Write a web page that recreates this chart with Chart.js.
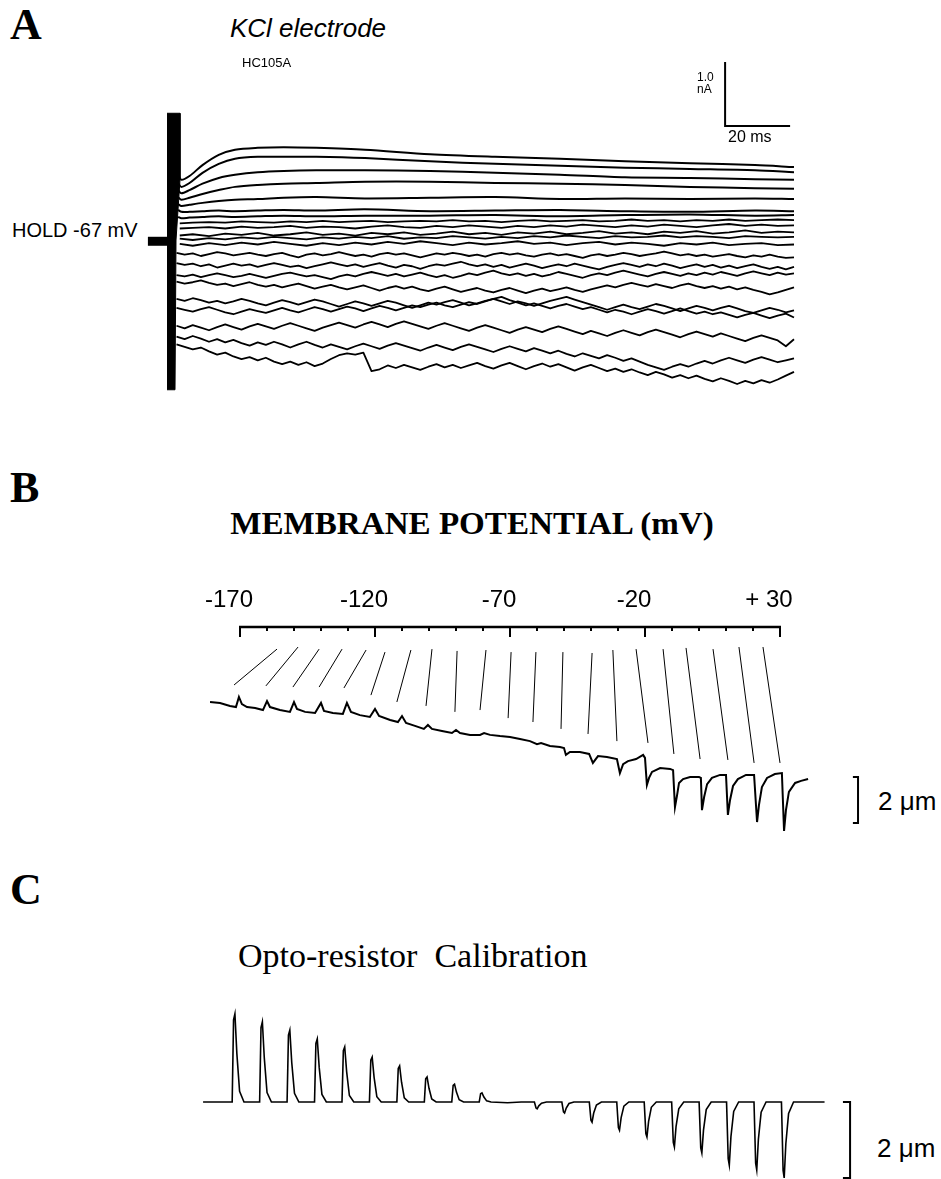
<!DOCTYPE html>
<html>
<head>
<meta charset="utf-8">
<script src="https://cdn.jsdelivr.net/npm/chart.js@4.4.1/dist/chart.umd.min.js"></script>
<style>
  html, body { margin: 0; padding: 0; background: #fff; }
  #page { position: relative; width: 941px; height: 1179px; overflow: hidden; background: #fff; }
  #page canvas { position: absolute; }
  .t { position: absolute; white-space: pre; line-height: 1; color: #000; }
  .sans { font-family: "Liberation Sans", Arial, Helvetica, sans-serif; }
  .serif { font-family: "Liberation Serif", "Times New Roman", Times, serif; }
</style>
</head>
<body>
<div id="page">
  <canvas id="chartA" width="670" height="350" style="left:140px;top:50px"></canvas>
  <canvas id="chartB" width="675" height="275" style="left:195px;top:575px"></canvas>
  <canvas id="chartC" width="675" height="184" style="left:195px;top:995px"></canvas>
</div>
<script>
// ---------- Panel A: whole-cell current (nA) against time (ms) ----------
const timeSmooth = [2.5, 3.5, 6, 10, 15, 20, 27, 35, 45, 60, 80, 100, 120, 140, 160, 180, 192];
const timeNoisy = [3, 7, 12, 17, 22, 27, 32, 37, 42, 47, 52, 57, 62, 67, 72, 77, 82, 87, 92, 97,
  102, 107, 112, 117, 122, 127, 132, 137, 142, 147, 152, 157, 162, 167, 172, 177, 182, 187, 192];
const timeFine = [2, 4.5, 7, 9.5, 12, 14.5, 17, 19.5, 22, 24.5, 27,
  29.5, 32, 34.5, 37, 39.5, 42, 44.5, 47, 49.5, 52, 54.5,
  57, 59.5, 62, 64.5, 67, 69.5, 72, 74.5, 77, 79.5, 82,
  84.5, 87, 89.5, 92, 94.5, 97, 99.5, 102, 104.5, 107, 109.5,
  112, 114.5, 117, 119.5, 122, 124.5, 127, 129.5, 132, 134.5, 137,
  139.5, 142, 144.5, 147, 149.5, 152, 154.5, 157, 159.5, 162, 164.5,
  167, 169.5, 172, 174.5, 177, 179.5, 182, 184.5, 187, 189.5, 192];

const sweep01 = [1.02, 0.94, 1.00, 1.17, 1.33, 1.41, 1.44, 1.45, 1.44, 1.41, 1.34, 1.30, 1.27, 1.23, 1.20, 1.17, 1.14];
const sweep02 = [0.89, 0.83, 0.89, 1.05, 1.19, 1.27, 1.30, 1.30, 1.30, 1.28, 1.23, 1.19, 1.16, 1.13, 1.11, 1.09, 1.06];
const sweep03 = [0.78, 0.73, 0.78, 0.88, 0.97, 1.02, 1.06, 1.08, 1.09, 1.09, 1.08, 1.05, 1.02, 0.98, 0.97, 0.95, 0.94];
const sweep04 = [0.67, 0.63, 0.66, 0.72, 0.78, 0.83, 0.86, 0.88, 0.89, 0.91, 0.91, 0.89, 0.88, 0.86, 0.83, 0.81, 0.80];
const sweep05 = [0.56, 0.53, 0.55, 0.58, 0.61, 0.63, 0.64, 0.66, 0.67, 0.65, 0.66, 0.67, 0.64, 0.65, 0.64, 0.65, 0.64];
const sweep06 = [0.47, 0.44, 0.44, 0.45, 0.46, 0.45, 0.46, 0.47, 0.46, 0.48, 0.45, 0.46, 0.47, 0.45, 0.44, 0.46, 0.45];
const sweep07 = [0.36, 0.34, 0.35, 0.36, 0.37, 0.36, 0.37, 0.38, 0.37, 0.38, 0.38, 0.39, 0.37, 0.39, 0.40, 0.38, 0.39];

const sweep08 = [0.26, 0.27, 0.28, 0.27, 0.29, 0.28, 0.27, 0.29, 0.28, 0.30, 0.28, 0.29, 0.30, 0.28, 0.29, 0.30, 0.29, 0.31, 0.29, 0.30,
  0.28, 0.30, 0.31, 0.29, 0.30, 0.31, 0.29, 0.30, 0.32, 0.30, 0.31, 0.29, 0.31, 0.30, 0.32, 0.30, 0.31, 0.32, 0.31];
const sweep09 = [0.18, 0.19, 0.20, 0.18, 0.21, 0.19, 0.20, 0.22, 0.19, 0.21, 0.20, 0.18, 0.21, 0.23, 0.20, 0.19, 0.22, 0.20, 0.23, 0.21,
  0.19, 0.22, 0.20, 0.23, 0.21, 0.24, 0.22, 0.20, 0.23, 0.21, 0.24, 0.22, 0.20, 0.23, 0.25, 0.22, 0.24, 0.22, 0.23];
const sweep10 = [0.07, 0.09, 0.06, 0.10, 0.08, 0.11, 0.07, 0.09, 0.12, 0.08, 0.10, 0.07, 0.11, 0.09, 0.12, 0.08, 0.10, 0.13, 0.09, 0.11,
  0.08, 0.12, 0.10, 0.13, 0.09, 0.11, 0.14, 0.10, 0.12, 0.09, 0.13, 0.11, 0.14, 0.10, 0.12, 0.15, 0.11, 0.13, 0.12];
const sweep11 = [0.02, 0.00, 0.03, 0.01, 0.04, 0.02, 0.05, 0.03, 0.01, 0.04, 0.02, 0.05, 0.03, 0.06, 0.02, 0.04, 0.03, 0.06, 0.04, 0.02,
  0.05, 0.03, 0.06, 0.04, 0.07, 0.05, 0.03, 0.06, 0.04, 0.05, 0.07, 0.04, 0.06, 0.05, 0.03, 0.06, 0.05, 0.04, 0.05];
const sweep12 = [-0.06, -0.09, -0.05, -0.08, -0.04, -0.07, -0.03, -0.06, -0.09, -0.05, -0.08, -0.04, -0.07, -0.03, -0.06, -0.02, -0.05, -0.08, -0.04, -0.07,
  -0.05, -0.02, -0.06, -0.04, -0.08, -0.05, -0.03, -0.07, -0.04, -0.06, -0.09, -0.05, -0.07, -0.04, -0.08, -0.06, -0.05, -0.08, -0.07];

// the noisier sweeps, read on the finer time grid
const sweep13 = [-0.20, -0.23, -0.21, -0.25, -0.22, -0.19, -0.21, -0.24, -0.22, -0.20, -0.23,
  -0.25, -0.22, -0.20, -0.24, -0.27, -0.23, -0.21, -0.24, -0.22, -0.19, -0.22,
  -0.25, -0.23, -0.26, -0.22, -0.20, -0.23, -0.21, -0.24, -0.27, -0.24, -0.21,
  -0.23, -0.20, -0.22, -0.25, -0.23, -0.26, -0.22, -0.20, -0.23, -0.21, -0.24,
  -0.26, -0.23, -0.21, -0.24, -0.22, -0.25, -0.28, -0.24, -0.22, -0.25, -0.23,
  -0.20, -0.22, -0.25, -0.23, -0.21, -0.18, -0.21, -0.24, -0.22, -0.25, -0.23,
  -0.26, -0.24, -0.22, -0.25, -0.27, -0.24, -0.26, -0.23, -0.26, -0.28, -0.27];
const sweep14 = [-0.36, -0.39, -0.37, -0.41, -0.38, -0.43, -0.40, -0.37, -0.40, -0.38, -0.42,
  -0.39, -0.36, -0.39, -0.42, -0.40, -0.44, -0.41, -0.38, -0.35, -0.38, -0.41,
  -0.38, -0.42, -0.39, -0.36, -0.40, -0.43, -0.39, -0.41, -0.45, -0.41, -0.38,
  -0.40, -0.37, -0.34, -0.38, -0.41, -0.38, -0.42, -0.39, -0.43, -0.40, -0.37,
  -0.40, -0.44, -0.41, -0.38, -0.41, -0.37, -0.40, -0.43, -0.46, -0.42, -0.39,
  -0.36, -0.39, -0.42, -0.38, -0.41, -0.37, -0.40, -0.44, -0.41, -0.38, -0.42,
  -0.39, -0.43, -0.40, -0.44, -0.41, -0.38, -0.42, -0.45, -0.42, -0.46, -0.42];
const sweep15 = [-0.55, -0.57, -0.54, -0.58, -0.55, -0.52, -0.55, -0.58, -0.56, -0.53, -0.56,
  -0.59, -0.56, -0.53, -0.51, -0.54, -0.57, -0.55, -0.58, -0.61, -0.57, -0.54,
  -0.57, -0.53, -0.50, -0.53, -0.56, -0.53, -0.57, -0.54, -0.51, -0.55, -0.58,
  -0.55, -0.59, -0.56, -0.52, -0.55, -0.51, -0.48, -0.52, -0.55, -0.52, -0.56,
  -0.53, -0.57, -0.54, -0.50, -0.53, -0.56, -0.59, -0.55, -0.52, -0.55, -0.51,
  -0.48, -0.51, -0.54, -0.57, -0.53, -0.50, -0.53, -0.56, -0.52, -0.55, -0.51,
  -0.54, -0.50, -0.53, -0.56, -0.52, -0.49, -0.52, -0.55, -0.51, -0.54, -0.52];
const sweep16 = [-0.65, -0.68, -0.66, -0.63, -0.67, -0.70, -0.68, -0.72, -0.69, -0.66, -0.70,
  -0.73, -0.70, -0.74, -0.71, -0.68, -0.72, -0.76, -0.73, -0.70, -0.74, -0.77,
  -0.74, -0.71, -0.75, -0.79, -0.75, -0.72, -0.76, -0.73, -0.77, -0.80, -0.76,
  -0.73, -0.77, -0.81, -0.78, -0.75, -0.79, -0.82, -0.78, -0.75, -0.79, -0.83,
  -0.79, -0.76, -0.80, -0.77, -0.74, -0.78, -0.81, -0.77, -0.74, -0.71, -0.74,
  -0.70, -0.67, -0.70, -0.73, -0.69, -0.72, -0.75, -0.71, -0.68, -0.72, -0.75,
  -0.72, -0.76, -0.73, -0.77, -0.74, -0.78, -0.81, -0.85, -0.82, -0.78, -0.74];
const sweep17 = [-0.92, -0.95, -0.91, -0.94, -0.98, -0.95, -0.99, -0.96, -0.92, -0.95, -0.99,
  -1.02, -0.98, -0.94, -0.97, -1.01, -0.97, -0.93, -0.96, -1.00, -1.04, -1.00,
  -0.96, -0.99, -1.03, -0.99, -0.95, -0.98, -1.02, -1.06, -1.02, -0.98, -1.01,
  -0.97, -0.94, -0.98, -1.02, -0.99, -0.95, -0.92, -0.96, -1.00, -0.96, -0.99,
  -1.03, -0.99, -0.95, -0.92, -0.89, -0.93, -0.97, -1.01, -1.05, -1.09, -1.05,
  -1.01, -1.05, -1.08, -1.04, -1.00, -1.03, -1.07, -1.11, -1.07, -1.03, -1.06,
  -1.10, -1.06, -1.03, -1.07, -1.11, -1.14, -1.10, -1.06, -1.09, -1.13, -1.10];
const sweep18 = [-1.06, -1.09, -1.12, -1.08, -1.05, -1.09, -1.13, -1.16, -1.12, -1.08, -1.11,
  -1.14, -1.10, -1.06, -1.10, -1.13, -1.09, -1.05, -1.08, -1.12, -1.08, -1.04,
  -1.07, -1.11, -1.07, -1.03, -1.06, -1.10, -1.06, -1.02, -1.05, -1.01, -0.98,
  -1.02, -1.05, -1.01, -0.97, -1.00, -0.96, -0.92, -0.89, -0.94, -0.98, -1.02,
  -0.99, -1.03, -1.07, -1.03, -1.00, -1.04, -1.08, -1.05, -1.09, -1.13, -1.09,
  -1.12, -1.16, -1.12, -1.08, -1.11, -1.15, -1.11, -1.07, -1.11, -1.15, -1.12,
  -1.16, -1.13, -1.17, -1.21, -1.17, -1.14, -1.18, -1.22, -1.18, -1.15, -1.21];
const sweep19 = [-1.34, -1.38, -1.33, -1.37, -1.41, -1.36, -1.32, -1.36, -1.40, -1.35, -1.31,
  -1.35, -1.39, -1.34, -1.30, -1.34, -1.38, -1.42, -1.37, -1.33, -1.29, -1.33,
  -1.37, -1.32, -1.28, -1.32, -1.36, -1.31, -1.27, -1.31, -1.35, -1.39, -1.34,
  -1.30, -1.34, -1.38, -1.42, -1.37, -1.33, -1.37, -1.41, -1.45, -1.40, -1.36,
  -1.40, -1.44, -1.39, -1.35, -1.39, -1.43, -1.47, -1.42, -1.46, -1.50, -1.45,
  -1.41, -1.45, -1.49, -1.44, -1.40, -1.44, -1.48, -1.52, -1.47, -1.43, -1.47,
  -1.51, -1.46, -1.50, -1.54, -1.58, -1.53, -1.49, -1.53, -1.57, -1.66, -1.55];
const sweep20 = [-1.51, -1.55, -1.50, -1.54, -1.59, -1.55, -1.60, -1.56, -1.61, -1.65, -1.60,
  -1.64, -1.59, -1.63, -1.68, -1.63, -1.59, -1.64, -1.68, -1.63, -1.67, -1.71,
  -1.66, -1.62, -1.66, -1.70, -1.65, -1.61, -1.65, -1.69, -1.73, -1.68, -1.64,
  -1.68, -1.72, -1.67, -1.63, -1.67, -1.71, -1.75, -1.70, -1.66, -1.70, -1.74,
  -1.69, -1.73, -1.77, -1.73, -1.78, -1.82, -1.77, -1.81, -1.85, -1.80, -1.84,
  -1.89, -1.85, -1.90, -1.95, -1.99, -2.03, -1.98, -1.94, -1.98, -1.93, -1.89,
  -1.93, -1.88, -1.84, -1.88, -1.92, -1.87, -1.83, -1.87, -1.91, -1.88, -1.85];
const sweep21 = [-1.63, -1.67, -1.71, -1.68, -1.74, -1.79, -1.76, -1.82, -1.86, -1.83, -1.88,
  -1.84, -1.90, -1.94, -1.90, -1.95, -1.91, -1.97, -1.93, -1.86, -1.80, -1.77,
  -1.79, -1.76, -2.05, -2.02, -1.96, -2.00, -1.95, -1.99, -2.03, -1.98, -1.94,
  -1.99, -1.95, -2.00, -1.96, -1.92, -1.97, -2.01, -1.96, -1.92, -1.97, -2.02,
  -1.97, -1.93, -1.98, -1.94, -1.99, -2.04, -1.99, -1.95, -2.00, -2.05, -2.01,
  -2.06, -2.02, -2.07, -2.11, -2.06, -2.10, -2.15, -2.11, -2.16, -2.12, -2.17,
  -2.21, -2.16, -2.20, -2.25, -2.20, -2.24, -2.19, -2.23, -2.18, -2.12, -2.06];

// capacitive transient envelope, holding marker and calibration bar (1.0 nA / 20 ms)
const transientT = [-0.92, 3.08, 3.08, 1.85, 1.54, -0.92];
const transientI = [1.98, 1.98, 0.94, 0.0, -2.34, -2.34];
const holdT = [-6.8, 0.3];
const holdI = [-0.02, -0.02];
const scaleBarT = [170.8, 170.8, 190.8];
const scaleBarI = [2.78, 1.78, 1.78];

// ---------- Panel B: cell length (um) during the voltage series ----------
const mvTicks = [-170, -160, -150, -140, -130, -120, -110, -100, -90, -80, -70, -60, -50, -40, -30, -20, -10, 0, 10, 20, 30];
const mvLabelValues = [-170, -120, -70, -20, 30];
const mvLabels = ['-170', '-120', '-70', '-20', '+ 30'];

const lengthMv = [-181.1, -177.4, -173.7, -171.5, -170.4, -169.3, -167.4, -164.4, -161.5, -160.0,
  -158.9, -155.2, -151.5, -150.0, -148.9, -145.9, -142.2, -140.0, -138.9, -135.6,
  -131.9, -130.4, -128.9, -125.6, -121.9, -120.0, -118.5, -114.4, -111.5, -110.0,
  -108.5, -105.2, -101.9, -100.4, -98.9, -95.2, -91.5, -90.0, -88.5, -84.8,
  -81.1, -79.6, -77.4, -73.7, -70.0, -66.3, -62.6, -60.0, -58.5, -55.2,
  -51.5, -50.0, -49.3, -47.8, -44.1, -40.7, -39.3, -37.4, -34.1, -30.4,
  -29.3, -28.1, -26.3, -23.3, -20.7, -20.0, -19.3, -18.5, -17.4, -14.4,
  -10.7, -9.6, -8.9, -8.1, -7.4, -5.9, -3.3, 0.0, 0.7, 1.1,
  1.9, 3.0, 4.8, 7.8, 10.0, 10.7, 11.5, 12.6, 14.4, 17.4,
  20.4, 21.5, 22.2, 23.3, 25.2, 28.1, 30.7, 31.5, 32.2, 33.3,
  35.6, 37.8, 40.4];
const lengthUm = [0.00, -0.04, -0.17, -0.22, 0.22, -0.09, -0.22, -0.26, -0.35, 0.04,
  -0.22, -0.35, -0.43, 0.00, -0.30, -0.43, -0.48, -0.04, -0.39, -0.48,
  -0.52, -0.04, -0.43, -0.57, -0.65, -0.30, -0.61, -0.78, -0.87, -0.61,
  -0.91, -1.04, -1.17, -1.00, -1.17, -1.26, -1.35, -1.22, -1.35, -1.43,
  -1.43, -1.35, -1.43, -1.48, -1.52, -1.61, -1.70, -1.83, -1.78, -1.91,
  -1.96, -2.00, -2.30, -2.17, -2.17, -2.26, -2.65, -2.35, -2.39, -2.48,
  -3.09, -2.70, -2.57, -2.48, -2.30, -2.43, -3.61, -3.30, -3.04, -2.87,
  -2.91, -2.96, -4.57, -4.04, -3.52, -3.35, -3.26, -3.26, -3.30, -4.70,
  -4.13, -3.57, -3.30, -3.17, -3.17, -4.91, -4.26, -3.65, -3.35, -3.17,
  -3.17, -5.22, -4.48, -3.70, -3.30, -3.13, -3.09, -5.61, -4.70, -3.91,
  -3.52, -3.43, -3.35];

// leader lines from each voltage step down to its response
const linkTopMv = [-156.3, -148.5, -140.7, -132.2, -123.3, -116.3, -106.7, -98.9, -89.6, -78.9, -69.6,
  -60.4, -50.4, -39.6, -31.9, -23.3, -13.3, -4.8, 5.2, 14.8, 23.7];
const linkTopUm = [2.30, 2.39, 2.30, 2.30, 2.26, 2.17, 2.26, 2.30, 2.22, 2.26, 2.17,
  2.17, 2.17, 2.13, 2.26, 2.30, 2.30, 2.35, 2.30, 2.39, 2.39];
const linkEndMv = [-172.2, -160.4, -150.4, -140.7, -131.5, -121.5, -111.9, -101.1, -90.4, -81.1, -70.7,
  -61.5, -51.1, -41.1, -30.4, -18.9, -9.3, 0.4, 10.7, 20.4, 30.0];
const linkEndUm = [0.74, 0.70, 0.65, 0.65, 0.61, 0.30, 0.00, -0.17, -0.43, -0.35, -0.70,
  -0.87, -1.17, -1.39, -1.70, -1.78, -2.26, -2.48, -2.52, -2.65, -2.65];

const barBMv = [57.0, 58.9, 58.9, 57.0];
const barBUm = [-3.26, -3.26, -5.26, -5.26];

// ---------- Panel C: opto-resistor calibration (um) against pulse number ----------
const caliStep = [-1.09,
  -0.03, 0.02, 0.07, 0.14, 0.24, 0.40,
  0.97, 1.02, 1.07, 1.14, 1.24, 1.40,
  1.97, 2.02, 2.07, 2.14, 2.24, 2.40,
  2.97, 3.02, 3.07, 3.14, 3.24, 3.40,
  3.97, 4.02, 4.07, 4.14, 4.24, 4.40,
  4.97, 5.02, 5.07, 5.14, 5.24, 5.40,
  5.97, 6.02, 6.07, 6.14, 6.24, 6.40,
  6.97, 7.02, 7.07, 7.14, 7.24, 7.40,
  7.97, 8.02, 8.07, 8.14, 8.24, 8.40,
  8.97, 9.02, 9.07, 9.14, 9.24, 9.40,
  10.0, 10.5,
  10.98, 11.04, 11.08, 11.14, 11.24, 11.42,
  11.98, 12.04, 12.08, 12.14, 12.24, 12.42,
  12.98, 13.04, 13.08, 13.14, 13.24, 13.42,
  13.98, 14.04, 14.08, 14.14, 14.24, 14.42,
  14.98, 15.04, 15.08, 15.14, 15.24, 15.42,
  15.98, 16.04, 16.08, 16.14, 16.24, 16.42,
  16.98, 17.04, 17.08, 17.14, 17.24, 17.42,
  17.98, 18.04, 18.08, 18.14, 18.24, 18.42,
  18.98, 19.04, 19.08, 19.14, 19.24, 19.42,
  19.98, 20.04, 20.08, 20.14, 20.24, 20.42,
  21.55];
const caliUm = [0,
  0, 2.16, 2.32, 1.28, 0.28, 0,
  0, 1.96, 2.11, 1.16, 0.25, 0,
  0, 1.76, 1.89, 1.04, 0.23, 0,
  0, 1.54, 1.66, 0.91, 0.20, 0,
  0, 1.35, 1.45, 0.80, 0.17, 0,
  0, 1.10, 1.18, 0.65, 0.14, 0,
  0, 0.88, 0.95, 0.52, 0.11, 0,
  0, 0.61, 0.66, 0.36, 0.08, 0,
  0, 0.44, 0.47, 0.26, 0.06, 0,
  0, 0.22, 0.24, 0.13, 0.03, 0,
  -0.02, 0,
  0, -0.16, -0.18, -0.10, -0.03, 0,
  0, -0.26, -0.29, -0.16, -0.04, 0,
  0, -0.48, -0.53, -0.29, -0.08, 0,
  0, -0.67, -0.74, -0.41, -0.11, 0,
  0, -0.83, -0.92, -0.51, -0.14, 0,
  0, -1.06, -1.18, -0.65, -0.18, 0,
  0, -1.21, -1.34, -0.74, -0.20, 0,
  0, -1.49, -1.66, -0.91, -0.25, 0,
  0, -1.61, -1.79, -0.98, -0.27, 0,
  0, -1.80, -2.00, -1.10, -0.30, 0,
  0];

const barCStep = [22.22, 22.48, 22.48, 22.22];
const barCUm = [0, 0, -2.0, -2.0];

// ---------- helpers ----------
const pts = (xs, ys) => xs.map((x, i) => ({ x: x, y: ys[i] }));

function baseOptions(xMin, xMax, yMin, yMax) {
  return {
    responsive: false,
    animation: false,
    devicePixelRatio: 1,
    layout: { padding: 0 },
    plugins: { legend: { display: false }, tooltip: { enabled: false } },
    elements: {
      point: { radius: 0, hoverRadius: 0 },
      line: { borderColor: '#000', borderWidth: 2, tension: 0, fill: false }
    },
    scales: {
      x: { type: 'linear', display: false, min: xMin, max: xMax },
      y: { type: 'linear', display: false, min: yMin, max: yMax }
    }
  };
}

function addText(txt, x, baseline, size, cls, align) {
  const el = document.createElement('div');
  el.className = 't ' + cls;
  el.textContent = txt;
  el.style.fontSize = size + 'px';
  const asc = cls.indexOf('serif') >= 0 ? 0.8375 : 0.8465;
  el.style.top = (baseline - asc * size) + 'px';
  el.style.left = x + 'px';
  if (align === 'center') el.style.transform = 'translateX(-50%)';
  document.getElementById('page').appendChild(el);
  return el;
}

// ---------- chart A ----------
const smoothSweeps = [sweep01, sweep02, sweep03, sweep04, sweep05, sweep06, sweep07];
const quietSweeps = [sweep08, sweep09, sweep10, sweep11, sweep12];
const noisySweeps = [sweep13, sweep14, sweep15, sweep16, sweep17, sweep18, sweep19, sweep20, sweep21];

const dsA = [];
dsA.push({ data: pts(transientT, transientI), fill: 'shape', backgroundColor: '#000', borderWidth: 1 });
dsA.push({ data: pts(holdT, holdI), borderWidth: 9, borderCapStyle: 'butt' });
dsA.push({ data: pts(scaleBarT, scaleBarI), borderWidth: 2 });
smoothSweeps.forEach(s => dsA.push({ data: pts(timeSmooth, s), tension: 0.3 }));
quietSweeps.forEach(s => dsA.push({ data: pts(timeNoisy, s), borderWidth: 1.8 }));
noisySweeps.forEach(s => dsA.push({ data: pts(timeFine, s), borderWidth: 1.8, borderJoinStyle: 'round' }));

new Chart(document.getElementById('chartA'), {
  type: 'line',
  data: { datasets: dsA },
  options: baseOptions(-9.2308, 196.923, -2.5, 2.96875)
});

// ---------- chart B ----------
const mvAxis = {
  id: 'mvAxis',
  afterDatasetsDraw(chart, args, opts) {
    const ctx = chart.ctx;
    const sx = chart.scales.x;
    const yLine = opts.lineY;
    ctx.save();
    ctx.strokeStyle = '#000';
    ctx.lineWidth = 2.5;
    ctx.beginPath();
    ctx.moveTo(sx.getPixelForValue(mvTicks[0]) - 1, yLine);
    ctx.lineTo(sx.getPixelForValue(mvTicks[mvTicks.length - 1]) + 1, yLine);
    ctx.stroke();
    ctx.lineWidth = 2;
    mvTicks.forEach(v => {
      const px = sx.getPixelForValue(v);
      const len = mvLabelValues.indexOf(v) >= 0 ? opts.major : opts.minor;
      ctx.beginPath();
      ctx.moveTo(px, yLine);
      ctx.lineTo(px, yLine + len);
      ctx.stroke();
    });
    ctx.fillStyle = '#000';
    ctx.font = '24px "Liberation Sans", Arial, sans-serif';
    ctx.textAlign = 'center';
    ctx.textBaseline = 'alphabetic';
    mvLabelValues.forEach((v, i) => {
      ctx.fillText(mvLabels[i], sx.getPixelForValue(v) + opts.labelShift, opts.labelY);
    });
    ctx.restore();
  }
};

const linkPts = [];
linkTopMv.forEach((mv, i) => {
  linkPts.push({ x: mv, y: linkTopUm[i] });
  linkPts.push({ x: linkEndMv[i], y: linkEndUm[i] });
  linkPts.push({ x: linkEndMv[i], y: null });
});

const optB = baseOptions(-186.667, 63.333, -6.4348, 5.5217);
optB.plugins.mvAxis = { lineY: 52, labelY: 32, labelShift: -11, major: 10, minor: 4 };
new Chart(document.getElementById('chartB'), {
  type: 'line',
  data: {
    datasets: [
      { data: pts(lengthMv, lengthUm), borderWidth: 2 },
      { data: linkPts, borderWidth: 1, spanGaps: false },
      { data: pts(barBMv, barBUm), borderWidth: 2, borderCapStyle: 'butt' }
    ]
  },
  options: optB,
  plugins: [mvAxis]
});

// ---------- chart C ----------
new Chart(document.getElementById('chartC'), {
  type: 'line',
  data: {
    datasets: [
      { data: pts(caliStep, caliUm), borderWidth: 1.6 },
      { data: pts(barCStep, barCUm), borderWidth: 2, borderCapStyle: 'butt' }
    ]
  },
  options: baseOptions(-1.3843, 23.2058, -2.0263, 2.8158)
});

// ---------- text ----------
const lblA = addText('A', 10, 40, 44, 'serif'); lblA.style.fontWeight = 'bold';
const kcl = addText('KCl electrode', 230, 37, 26, 'sans'); kcl.style.fontStyle = 'italic';
addText('HC105A', 242, 67, 13, 'sans');
addText('HOLD -67 mV', 12, 237, 20, 'sans');
addText('1.0', 697, 81, 12, 'sans');
addText('nA', 697, 93, 12, 'sans');
addText('20 ms', 728, 143, 16, 'sans');

const lblB = addText('B', 10, 503, 44, 'serif'); lblB.style.fontWeight = 'bold';
const title = addText('MEMBRANE POTENTIAL (mV)', 472, 534, 32, 'serif', 'center');
title.style.fontWeight = 'bold';
title.style.transform = 'translateX(-50%) scaleX(' + (484 / title.offsetWidth).toFixed(3) + ')';
addText('2 \u03BCm', 878, 810, 26, 'sans');

const lblC = addText('C', 10, 905, 44, 'serif'); lblC.style.fontWeight = 'bold';
addText('Opto-resistor  Calibration', 238, 967, 34, 'serif');
addText('2 \u03BCm', 877, 1157, 26, 'sans');
</script>
</body>
</html>
